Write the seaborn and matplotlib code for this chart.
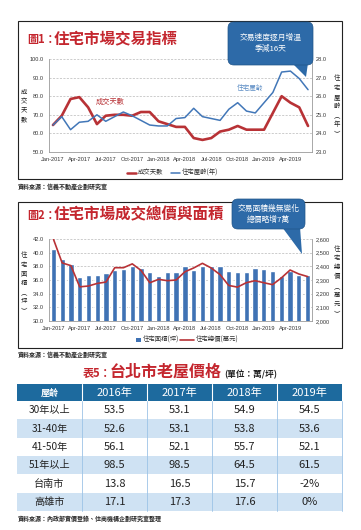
import numpy as np
import pandas as pd
import matplotlib
matplotlib.use("Agg")
import matplotlib.pyplot as plt
import seaborn as sns
from matplotlib.patches import FancyBboxPatch, Polygon, Rectangle
from matplotlib.lines import Line2D

# ---------------- data ----------------
tick_labels = ["Jan-2017", "Apr-2017", "Jul-2017", "Oct-2017", "Jan-2018",
               "Apr-2018", "Jul-2018", "Oct-2018", "Jan-2019", "Apr-2019"]
n_months = 30  # Jan-2017 .. Jun-2019

days_on_market = [64.5, 69.5, 78.5, 79.5, 74, 65, 69.5, 70, 70, 69.5,
                  71.5, 71.5, 66.5, 65, 63.5, 63.5, 57.5, 56.5, 57.5, 61,
                  62, 64, 62, 62, 62, 71, 80, 76.5, 74, 64]
house_age = [24.45, 24.9, 24.2, 24.6, 24.65, 25.0, 24.65, 24.9, 25.15, 24.95,
             24.7, 24.45, 24.4, 24.4, 24.8, 24.85, 25.35, 24.9, 24.8, 24.7,
             25.3, 25.65, 25.2, 25.1, 25.65, 26.2, 27.3, 27.35, 26.95, 26.35]

area_ping = [40.6, 39.1, 38.3, 36.5, 36.7, 36.7, 37.0, 37.4, 37.6, 38.1,
             37.8, 37.1, 36.6, 37.1, 37.1, 38.0, 37.4, 38.1, 38.1, 38.0,
             37.35, 37.1, 37.2, 37.7, 37.6, 37.25, 36.6, 37.3, 36.75, 36.7]
total_price = [2600, 2425, 2405, 2250, 2256, 2275, 2285, 2390, 2390, 2418,
               2370, 2280, 2305, 2295, 2300, 2360, 2388, 2422, 2388, 2340,
               2260, 2248, 2280, 2295, 2280, 2266, 2315, 2373, 2344, 2325]

table_cols = ["屋齡", "2016年", "2017年", "2018年", "2019年"]
table_rows = ["30年以上", "31-40年", "41-50年", "51年以上", "台南市", "高雄市"]
table_vals = [["53.5", "53.1", "54.9", "54.5"],
              ["52.6", "53.1", "53.8", "53.6"],
              ["56.1", "52.1", "55.7", "52.1"],
              ["98.5", "98.5", "64.5", "61.5"],
              ["13.8", "16.5", "15.7", "-2%"],
              ["17.1", "17.3", "17.6", "0%"]]

# ---------------- style ----------------
sns.set_theme(style="white")
plt.rcParams["font.family"] = ["Noto Sans CJK TC", "DejaVu Sans"]
plt.rcParams["axes.unicode_minus"] = False

RED = "#b83236"
TRED = "#c4262e"
BLUE = "#4277b8"
BAR = "#3f72b4"
CALL = "#2d6aa8"
HDR = "#1d6a9e"
LBLUE = "#cfe2f3"
TICKF = ["Liberation Sans", "DejaVu Sans"]

W, H = 361, 530
fig = plt.figure(figsize=(W / 100, H / 100), dpi=100)
fig.patch.set_facecolor("white")


def rect(l, t, r, b):
    return [l / W, 1 - b / H, (r - l) / W, (b - t) / H]


x_idx = np.arange(n_months)
tick_pos = np.arange(0, n_months, 3)[:len(tick_labels)]


def style_axes(ax, ax2):
    for a in (ax, ax2):
        for s in a.spines.values():
            s.set_visible(False)
    ax.spines["left"].set_visible(True)
    ax.spines["bottom"].set_visible(True)
    ax2.spines["right"].set_visible(True)
    for s in (ax.spines["left"], ax.spines["bottom"], ax2.spines["right"]):
        s.set_color("#9a9a9a")
        s.set_linewidth(0.6)
    ax.set_xticks(tick_pos)
    ax.set_xticklabels(tick_labels, fontsize=4.1, family=TICKF, color="#333333")
    ax.tick_params(axis="x", length=1.5, width=0.5, color="#9a9a9a", pad=2)
    ax.tick_params(axis="y", length=0, pad=4)
    ax2.tick_params(axis="y", length=0, pad=3)
    for lab in ax.get_yticklabels() + ax2.get_yticklabels():
        lab.set_fontsize(4.1)
        lab.set_family(TICKF)
        lab.set_color("#333333")
    ax.set_xlabel("")
    ax.set_ylabel("")
    ax2.set_ylabel("")
    ax.yaxis.grid(True, linestyle=(0, (3, 2)), color="#b8b8b8", linewidth=0.5)
    ax.set_axisbelow(True)


# ---------------- chart 1 ----------------
ax1 = fig.add_axes(rect(49, 59, 312, 152))
ax1b = ax1.twinx()
df1 = pd.DataFrame({"m": x_idx, "days": days_on_market, "age": house_age})
sns.lineplot(data=df1, x="m", y="days", ax=ax1, color=RED, linewidth=1.9, zorder=3)
sns.lineplot(data=df1, x="m", y="age", ax=ax1b, color=BLUE, linewidth=1.1, zorder=3)
ax1.set_xlim(-0.45, 29.45)
ax1.set_ylim(50, 100)
ax1b.set_ylim(23, 28)
ax1.set_yticks(np.arange(50, 101, 10))
ax1.set_yticklabels([f"{v:.1f}" for v in np.arange(50, 101, 10)])
ax1b.set_yticks(np.arange(23, 29, 1))
ax1b.set_yticklabels([f"{v:.1f}" for v in np.arange(23, 29, 1)])
style_axes(ax1, ax1b)
ax1.set_zorder(2); ax1b.set_zorder(3)

# ---------------- chart 2 ----------------
ax2 = fig.add_axes(rect(49, 239, 312, 321))
df2 = pd.DataFrame({"m": x_idx, "area": area_ping, "price": total_price})
sns.barplot(data=df2, x="m", y="area", ax=ax2, color=BAR, saturation=1,
            width=0.6, zorder=2)
ax2b = ax2.twinx()
sns.lineplot(data=df2, x="m", y="price", ax=ax2b, color=RED, linewidth=1.2, zorder=3)
ax2.set_xlim(-0.5, 29.5)
ax2.set_ylim(30, 42)
ax2b.set_ylim(2000, 2600)
ax2.set_yticks(np.arange(30, 43, 2))
ax2.set_yticklabels([f"{v:.1f}" for v in np.arange(30, 43, 2)])
ax2b.set_yticks(np.arange(2000, 2601, 100))
ax2b.set_yticklabels([f"{v:,}" for v in range(2000, 2601, 100)])
style_axes(ax2, ax2b)
ax2b.set_xlim(-0.5, 29.5)

# ---------------- overlay (frames, titles, callouts, table) ----------------
ov = fig.add_axes([0, 0, 1, 1])
ov.set_xlim(0, W)
ov.set_ylim(H, 0)
ov.axis("off")
ov.patch.set_alpha(0)
ov.set_zorder(10)

# frames
ov.add_patch(Rectangle((18, 21), 324, 158, fill=False, edgecolor="#222222", linewidth=0.8))
ov.add_patch(Rectangle((18, 202), 324, 146, fill=False, edgecolor="#222222", linewidth=0.8))

# titles
ov.text(27, 43, "圖1：", color=TRED, fontsize=8, fontweight="bold", va="baseline", ha="left")
ov.text(54, 43, "住宅市場交易指標", color=TRED, fontsize=11.2, fontweight="bold", va="baseline", ha="left")
ov.text(27, 219, "圖2：", color=TRED, fontsize=8, fontweight="bold", va="baseline", ha="left")
ov.text(54, 219, "住宅市場成交總價與面積", color=TRED, fontsize=11.2, fontweight="bold", va="baseline", ha="left")
ov.text(83, 377, "表5：", color=TRED, fontsize=8, fontweight="bold", va="baseline", ha="left")
ov.text(110, 377, "台北市老屋價格", color=TRED, fontsize=11.5, fontweight="bold", va="baseline", ha="left")
ov.text(224, 377, "(單位：萬/坪)", color="#222222", fontsize=6.2, fontweight="bold", va="baseline", ha="left")

# callouts
def callout(l, t, r, b, tip, base, lines):
    ov.add_patch(Polygon([base[0], base[1], tip], closed=True, facecolor=CALL,
                         edgecolor="none", zorder=11))
    ov.add_patch(FancyBboxPatch((l, t), r - l, b - t, boxstyle="round,pad=0,rounding_size=6",
                                facecolor=CALL, edgecolor="#1f5488", linewidth=0.5, zorder=11))
    ov.text((l + r) / 2, (t + b) / 2, lines, color="white", fontsize=5.6, ha="center",
            va="center", linespacing=1.5, zorder=12)

callout(228, 22, 313, 65, (306, 77), ((292, 63), (308, 63)), "交易速度逐月增溫\n季減16天")
callout(232, 199, 305, 229, (302, 254), ((282, 227), (300, 227)), "交易面積幾無變化\n總價略增7萬")

# in-chart labels
ov.text(110, 102, "成交天數", color=RED, fontsize=5.2, ha="center", va="center")
ov.text(250, 88, "住宅屋齡", color="#5b8cc4", fontsize=4.8, ha="center", va="center")

# vertical axis titles
def vtext(x, yc, s):
    ov.text(x, yc, "\n".join(list(s)), fontsize=4.6, ha="center", va="center",
            linespacing=1.2, color="#222222")

vtext(24, 106, "成交天數")
vtext(337, 106, "住宅屋齡︵年︶")
vtext(24, 283, "住宅面積︵坪︶")
vtext(337, 281, "住宅總價︵萬元︶")

# legends (manual)
ov.add_line(Line2D([127, 136], [172.5, 172.5], color=RED, linewidth=1.8))
ov.text(137.5, 172.5, "成交天數", fontsize=4.6, va="center", ha="left", color="#333333")
ov.add_line(Line2D([171, 180], [172.5, 172.5], color=BLUE, linewidth=1.1))
ov.text(181.5, 172.5, "住宅屋齡(年)", fontsize=4.6, va="center", ha="left", color="#333333")
ov.add_patch(Rectangle((136, 337.5), 5, 4, facecolor=BAR, edgecolor="none"))
ov.text(142.5, 339.5, "住宅面積(坪)", fontsize=4.6, va="center", ha="left", color="#333333")
ov.add_line(Line2D([180, 194], [339.5, 339.5], color=RED, linewidth=1.2))
ov.text(195.5, 339.5, "住宅總價(萬元)", fontsize=4.6, va="center", ha="left", color="#333333")

# source notes
ov.text(18, 187, "資料來源：信義不動產企劃研究室", fontsize=4.3, fontweight="bold", va="center", ha="left")
ov.text(18, 355, "資料來源：信義不動產企劃研究室", fontsize=4.3, fontweight="bold", va="center", ha="left")
ov.text(18, 519, "資料來源：內政部實價登錄、住商機構企劃研究室整理", fontsize=4.3, fontweight="bold", va="center", ha="left")

# table
col_x = [17, 82, 147, 212, 277, 342]
hdr_t, hdr_b = 384, 401
row_h = 18.33
ov.add_patch(Rectangle((col_x[0], hdr_t), col_x[-1] - col_x[0], hdr_b - hdr_t,
                       facecolor=HDR, edgecolor="none"))
for j, c in enumerate(table_cols):
    cx = (col_x[j] + col_x[j + 1]) / 2
    ov.text(cx, (hdr_t + hdr_b) / 2 + 0.5, c, color="white", fontsize=8 if j else 6.5,
            fontweight="bold" if j == 0 else "normal", ha="center", va="center")
for x in col_x[1:-1]:
    ov.add_line(Line2D([x, x], [hdr_t, hdr_b], color="white", linewidth=0.8))
for i, (lab, vals) in enumerate(zip(table_rows, table_vals)):
    t = hdr_b + i * row_h
    fc = "white" if i % 2 == 0 else LBLUE
    ov.add_patch(Rectangle((col_x[0], t), col_x[-1] - col_x[0], row_h,
                           facecolor=fc, edgecolor="none"))
    cy = t + row_h / 2 + 0.3
    ov.text((col_x[0] + col_x[1]) / 2, cy, lab, fontsize=7.3, ha="center",
            va="center", color="#222222")
    for j, v in enumerate(vals):
        ov.text((col_x[j + 1] + col_x[j + 2]) / 2, cy, v, fontsize=8, ha="center",
                va="center", color="#222222")
tb = hdr_b + len(table_rows) * row_h
for x in col_x[1:]:
    ov.add_line(Line2D([x, x], [hdr_b, tb], color="#9cc3e6", linewidth=0.6))

fig.savefig("out.png", dpi=100, facecolor="white")
